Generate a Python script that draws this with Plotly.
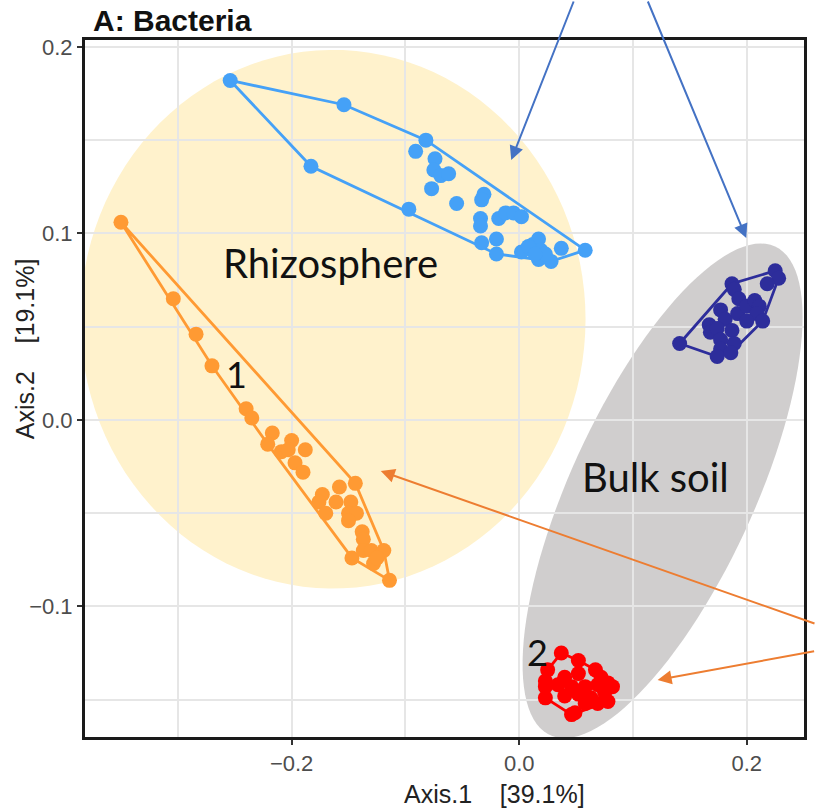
import numpy as np
import plotly.graph_objects as go

# ---------------- data ----------------
blue_x = [-0.254, -0.154, -0.183, -0.082, -0.091, -0.074, -0.075, -0.069, -0.062, -0.077,
          -0.097, -0.055, -0.031, -0.033, -0.034, -0.034, -0.018, -0.012, -0.005, 0.002,
          -0.033, -0.020, -0.020, 0.002, 0.012, 0.017, 0.019, 0.017, 0.028, 0.037,
          0.058, 0.008, 0.023, 0.014]
blue_y = [0.182, 0.169, 0.136, 0.150, 0.144, 0.140, 0.134, 0.131, 0.132, 0.124,
          0.113, 0.116, 0.121, 0.118, 0.108, 0.104, 0.108, 0.111, 0.111, 0.109,
          0.095, 0.097, 0.089, 0.090, 0.094, 0.097, 0.091, 0.086, 0.085, 0.092,
          0.091, 0.093, 0.089, 0.089]

orange_x = [-0.350, -0.304, -0.284, -0.270, -0.240, -0.235, -0.217, -0.221, -0.200, -0.209,
            -0.203, -0.188, -0.197, -0.190, -0.144, -0.158, -0.173, -0.176, -0.161, -0.148,
            -0.170, -0.150, -0.143, -0.150, -0.138, -0.137, -0.147, -0.137, -0.130, -0.119,
            -0.128, -0.125, -0.114]
orange_y = [0.106, 0.065, 0.046, 0.029, 0.006, 0.001, -0.007, -0.013, -0.011, -0.017,
            -0.016, -0.016, -0.023, -0.028, -0.034, -0.036, -0.040, -0.044, -0.044, -0.044,
            -0.050, -0.050, -0.050, -0.054, -0.060, -0.064, -0.074, -0.070, -0.070, -0.070,
            -0.077, -0.074, -0.086]

navy_x = [0.141, 0.225, 0.228, 0.218, 0.187, 0.189, 0.193, 0.177, 0.181, 0.192,
          0.200, 0.207, 0.211, 0.209, 0.214, 0.200, 0.167, 0.168, 0.174, 0.187,
          0.189, 0.177, 0.177, 0.174, 0.186]
navy_y = [0.041, 0.080, 0.076, 0.073, 0.073, 0.070, 0.065, 0.059, 0.054, 0.057,
          0.061, 0.064, 0.061, 0.057, 0.053, 0.053, 0.051, 0.047, 0.049, 0.048,
          0.041, 0.043, 0.038, 0.034, 0.036]

red_x = [0.037, 0.052, 0.067, 0.025, 0.023, 0.040, 0.052, 0.072, 0.078, 0.082,
         0.069, 0.058, 0.023, 0.034, 0.046, 0.023, 0.040, 0.052, 0.063, 0.075,
         0.078, 0.069, 0.058, 0.049, 0.046]
red_y = [-0.125, -0.129, -0.134, -0.134, -0.140, -0.138, -0.136, -0.138, -0.141, -0.143,
         -0.142, -0.143, -0.143, -0.142, -0.143, -0.149, -0.148, -0.147, -0.149, -0.146,
         -0.151, -0.152, -0.152, -0.157, -0.158]

x_ticks = [-0.2, 0.0, 0.2]
y_ticks = [-0.1, 0.0, 0.1, 0.2]

groups = [
    (blue_x, blue_y, "#45A1F7"),
    (orange_x, orange_y, "#FF9A33"),
    (navy_x, navy_y, "#2D2D9B"),
    (red_x, red_y, "#FF0000"),
]

# ---------------- helpers ----------------
def convex_hull(xs, ys):
    pts = sorted(set(zip(xs, ys)))
    if len(pts) <= 2:
        return pts
    def cross(o, a, b):
        return (a[0]-o[0])*(b[1]-o[1]) - (a[1]-o[1])*(b[0]-o[0])
    lower = []
    for p in pts:
        while len(lower) >= 2 and cross(lower[-2], lower[-1], p) <= 0:
            lower.pop()
        lower.append(p)
    upper = []
    for p in reversed(pts):
        while len(upper) >= 2 and cross(upper[-2], upper[-1], p) <= 0:
            upper.pop()
        upper.append(p)
    return lower[:-1] + upper[:-1]

def ellipse_path(cx, cy, u, v, n=120):
    t = np.linspace(0, 2*np.pi, n)
    xs = cx + u[0]*np.cos(t) + v[0]*np.sin(t)
    ys = cy + u[1]*np.cos(t) + v[1]*np.sin(t)
    return "M " + " L ".join(f"{a:.5f},{b:.5f}" for a, b in zip(xs, ys)) + " Z"

# ---------------- figure ----------------
fig = go.Figure()

for xs, ys, col in groups:
    hull = convex_hull(xs, ys)
    hx = [p[0] for p in hull] + [hull[0][0]]
    hy = [p[1] for p in hull] + [hull[0][1]]
    fig.add_trace(go.Scatter(x=hx, y=hy, mode="lines",
                             line=dict(color=col, width=2.8),
                             hoverinfo="skip", showlegend=False))
for xs, ys, col in groups:
    fig.add_trace(go.Scatter(x=xs, y=ys, mode="markers",
                             marker=dict(color=col, size=15, line=dict(width=0)),
                             showlegend=False))

# overlay ellipses (below gridlines)
fig.add_shape(type="path", xref="x", yref="y", layer="below",
              path=ellipse_path(-0.1637, 0.054, (0.222, 0.0), (0.0, 0.1444)),
              fillcolor="#FFF2CC", line=dict(width=0))
fig.add_shape(type="path", xref="x", yref="y", layer="below",
              path=ellipse_path(0.126, -0.038, (0.0989, 0.131), (0.0732, -0.0206)),
              fillcolor="#D0CECE", line=dict(width=0))

X0, X1 = -0.3816, 0.2503
Y0, Y1 = -0.170, 0.2037
L, R, T, B = 85, 9, 40, 75
W, H = 816, 812
PW, PH = W - L - R, H - T - B

def px2paper(px, py):
    return (px - L) / PW, (H - B - py) / PH

label_font = "Lato, 'Open Sans', sans-serif"
texts = [("Rhizosphere", 332, 263, 40), ("Bulk soil", 658, 477, 40),
         ("1", 237, 374, 36), ("2", 539, 652, 36)]
for txt, px, py, sz in texts:
    xp, yp = px2paper(px, py)
    fig.add_annotation(x=xp, y=yp, xref="paper", yref="paper", text=txt,
                       showarrow=False, font=dict(family=label_font, size=sz, color="#111111"),
                       xanchor="center", yanchor="middle")

# arrows (head px, tail px, colour)
arrows = [((513, 160), (576, -2), "#4472C4"),
          ((749, 238), (650, -2), "#4472C4"),
          ((382, 471), (818, 624), "#ED7D31"),
          ((660, 680), (818, 651), "#ED7D31")]
for (hx, hy), (tx, ty), col in arrows:
    xp, yp = px2paper(hx, hy)
    fig.add_annotation(x=xp, y=yp, xref="paper", yref="paper", text="",
                       showarrow=True, ax=tx - hx, ay=ty - hy,
                       arrowhead=2, arrowsize=1.4, arrowwidth=2, arrowcolor=col)

base_font = "Liberation Sans, Arial, sans-serif"
# title & axis titles
xp, yp = px2paper(91, 21)
fig.add_annotation(x=xp, y=yp, xref="paper", yref="paper", text="<b>A: Bacteria</b>",
                   showarrow=False, xanchor="left", yanchor="middle",
                   font=dict(family=base_font, size=30, color="#111111"))
xp, yp = px2paper(496, 794)
fig.add_annotation(x=xp, y=yp, xref="paper", yref="paper",
                   text="Axis.1\u00a0\u00a0\u00a0\u00a0[39.1%]", showarrow=False,
                   xanchor="center", yanchor="middle",
                   font=dict(family=base_font, size=25, color="#222222"))
xp, yp = px2paper(25, 349)
fig.add_annotation(x=xp, y=yp, xref="paper", yref="paper",
                   text="Axis.2\u00a0\u00a0\u00a0\u00a0[19.1%]", showarrow=False, textangle=-90,
                   xanchor="center", yanchor="middle",
                   font=dict(family=base_font, size=25, color="#222222"))

grid = "#E6E6E6"
axis_common = dict(showgrid=True, gridcolor=grid, gridwidth=2, tickformat=".1f",
                   zeroline=False, showline=True, mirror=True, linecolor="#1a1a1a", linewidth=3,
                   ticks="outside", ticklen=5, tickwidth=1.5, tickcolor="#333333",
                   tickfont=dict(family=base_font, size=22, color="#4D4D4D"))
fig.update_xaxes(range=[X0, X1], tickvals=x_ticks,
                 minor=dict(dtick=0.1, tick0=0, showgrid=True, gridcolor=grid, gridwidth=1.6),
                 **axis_common)
fig.update_yaxes(range=[Y0, Y1], tickvals=y_ticks,
                 minor=dict(dtick=0.05, tick0=0, showgrid=True, gridcolor=grid, gridwidth=1.6),
                 **axis_common)

fig.update_layout(width=W, height=H, margin=dict(l=L, r=R, t=T, b=B),
                  plot_bgcolor="white", paper_bgcolor="white", showlegend=False)

fig.write_html("out.html")
